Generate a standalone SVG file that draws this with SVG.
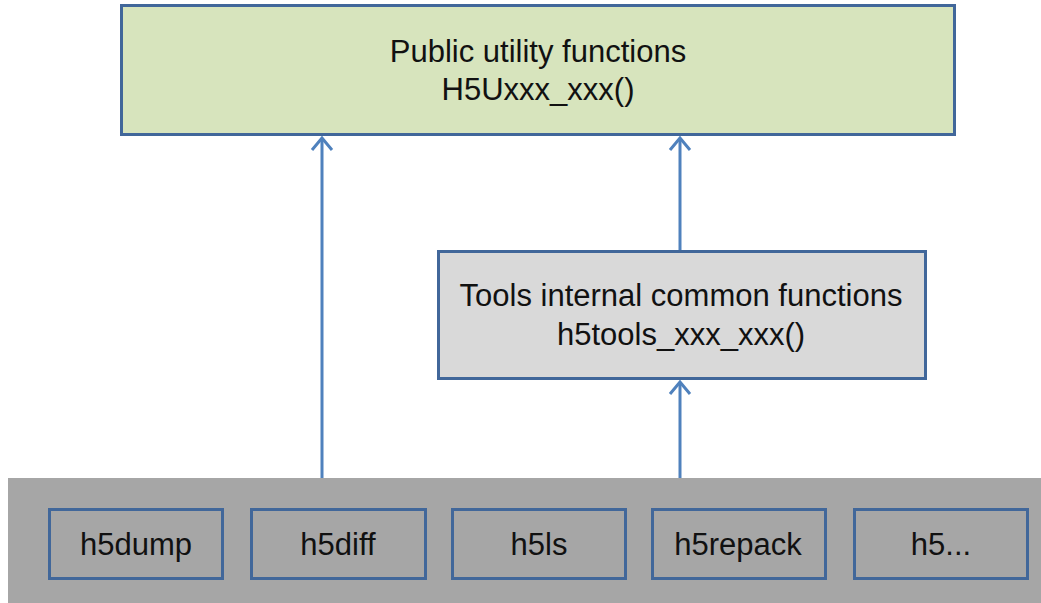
<svg xmlns="http://www.w3.org/2000/svg" width="1041" height="603" viewBox="0 0 1041 603">
<style>
.box{stroke:#41679a;stroke-width:3}
.t{font-family:"Liberation Sans",Arial,sans-serif;font-size:31px;fill:#111;text-anchor:middle}
.c{stroke:#4f81bd;stroke-width:3;fill:none}
</style>
<defs>
<marker id="ah" viewBox="0 0 16 24" refX="14" refY="12" markerWidth="16" markerHeight="24" markerUnits="userSpaceOnUse" orient="auto">
<path d="M2,2 L14,12 L2,22" fill="none" stroke="#4f81bd" stroke-width="3"/>
</marker>
</defs>
<rect x="0" y="0" width="1041" height="603" fill="#fff"/>
<g id="band"><rect x="8" y="478" width="1033" height="125" fill="#a6a6a6"/></g>
<g id="public"><rect class="box" x="121.5" y="5.5" width="833" height="129" fill="#d7e4bd"/>
<text class="t" x="538" y="62">Public utility functions</text>
<text class="t" x="538" y="100">H5Uxxx_xxx()</text></g>
<g id="internal"><rect class="box" x="438.5" y="251.5" width="487" height="127" fill="#d9d9d9"/>
<text class="t" x="681" y="306">Tools internal common functions</text>
<text class="t" x="681" y="345">h5tools_xxx_xxx()</text></g>
<g id="h5dump"><rect class="box" x="49.5" y="509.5" width="173" height="69" fill="none"/><text class="t" x="136" y="555">h5dump</text></g>
<g id="h5diff"><rect class="box" x="251.5" y="509.5" width="174" height="69" fill="none"/><text class="t" x="338" y="555">h5diff</text></g>
<g id="h5ls"><rect class="box" x="452.5" y="509.5" width="173" height="69" fill="none"/><text class="t" x="539" y="555">h5ls</text></g>
<g id="h5repack"><rect class="box" x="652.5" y="509.5" width="173" height="69" fill="none"/><text class="t" x="738" y="555">h5repack</text></g>
<g id="h5etc"><rect class="box" x="854.5" y="509.5" width="173" height="69" fill="none"/><text class="t" x="941" y="555">h5...</text></g>
<g id="connectors">
<path class="c" d="M322,478 L322,138" marker-end="url(#ah)"/>
<path class="c" d="M680,478 L680,382" marker-end="url(#ah)"/>
<path class="c" d="M680,250 L680,138" marker-end="url(#ah)"/>
</g>
</svg>
